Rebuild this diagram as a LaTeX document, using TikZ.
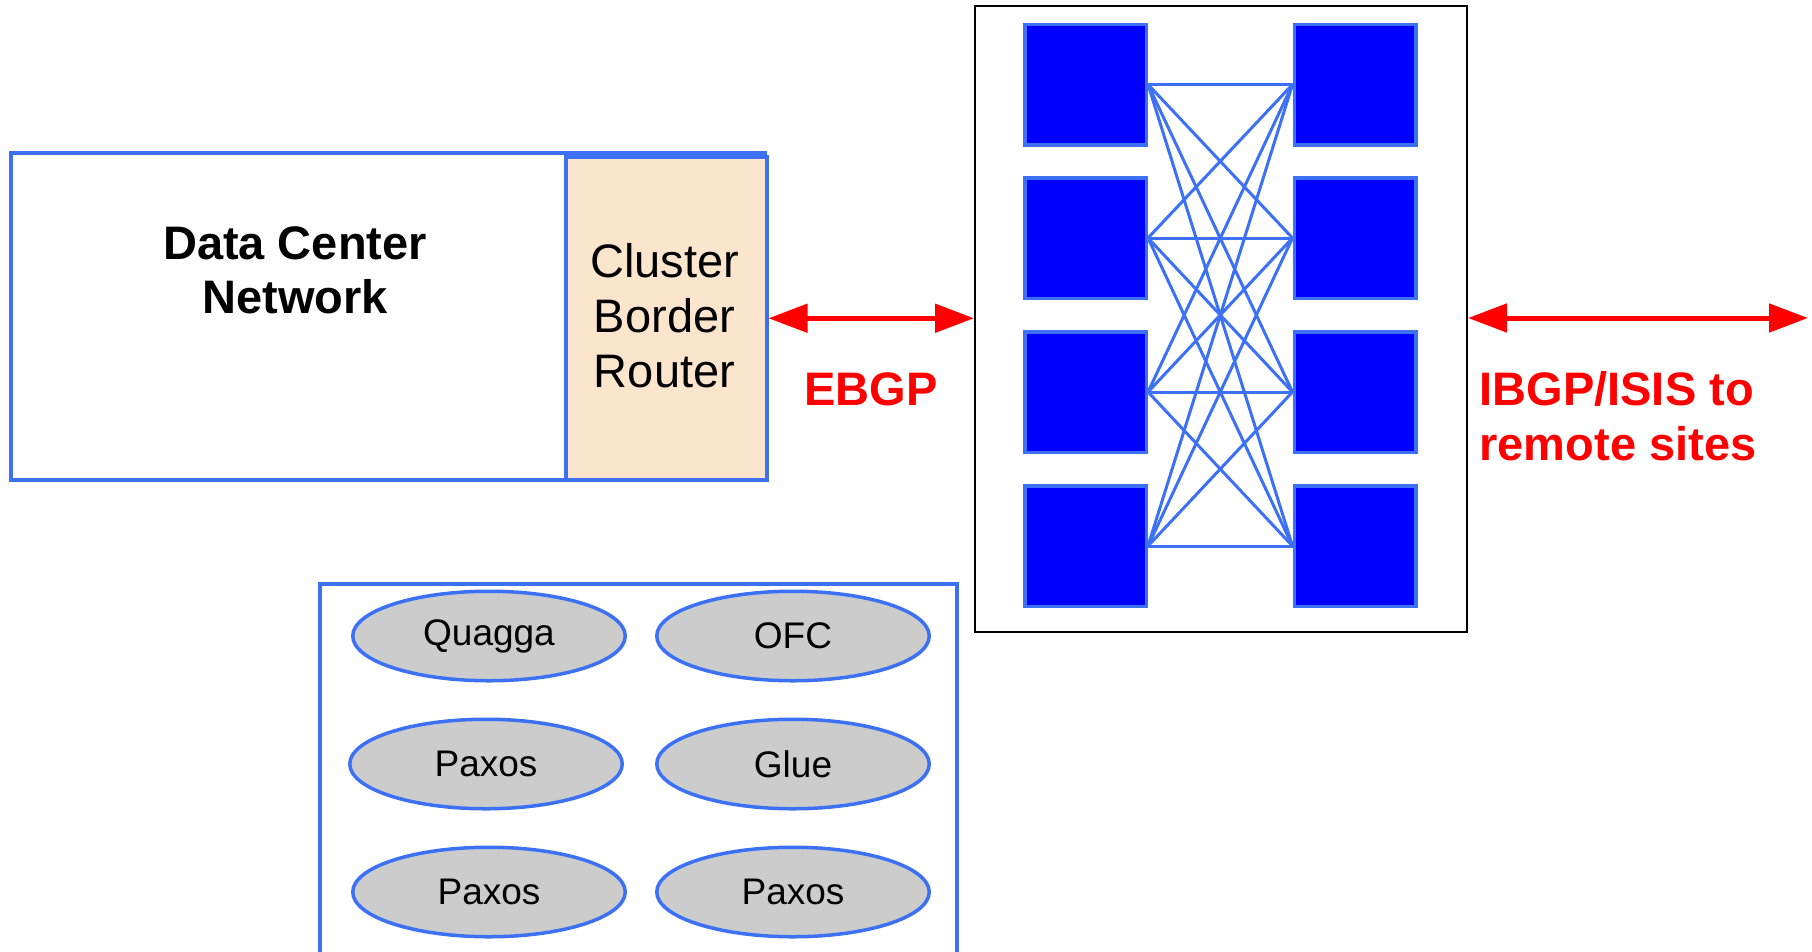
\documentclass[tikz,border=0pt]{standalone}
\usepackage{fontspec}
\setmainfont{Liberation Sans}
\usetikzlibrary{arrows.meta,shapes.geometric}
\definecolor{edgeblue}{RGB}{60,112,245}
\definecolor{switchblue}{RGB}{0,0,255}
\definecolor{peach}{RGB}{252,229,205}
\definecolor{ellgray}{RGB}{204,204,204}
\definecolor{labelred}{RGB}{255,0,0}

\begin{document}
\begin{tikzpicture}[x=1pt,y=-1pt,
  bluebox/.style={draw=edgeblue,line width=3.5pt,inner sep=0pt,anchor=north west},
  switchbox/.style={draw=edgeblue,fill=switchblue,line width=3.5pt,
    minimum width=121.5pt,minimum height=120.5pt,inner sep=0pt},
  link/.style={draw=edgeblue,line width=3pt},
  proc/.style={ellipse,draw=edgeblue,fill=ellgray,line width=3.5pt,
    minimum width=272.5pt,minimum height=89.5pt,inner sep=0pt,
    font=\fontsize{37}{44}\selectfont},
  bigtext/.style={font=\fontsize{47}{55}\selectfont,align=center},
  redlabel/.style={text=labelred,font=\fontsize{47}{55}\selectfont\bfseries},
  bothway/.style={draw=labelred,line width=5pt,
    {Triangle[length=39pt,width=28pt]}-{Triangle[length=39pt,width=28pt]}},
]
\useasboundingbox (0,0) rectangle (1812,951);

% data center network with its border router
\node[bluebox,minimum width=754pt,minimum height=327pt] (dc) at (9,151) {};
\node[bigtext,font=\fontsize{47}{54}\selectfont\bfseries] (dctext) at (295,270)
  {Data Center\\Network};
\node[bluebox,fill=peach,minimum width=201pt,minimum height=323pt] (cbr) at (564,155) {};
\node[bigtext] (cbrtext) at (664.5,316) {Cluster\\Border\\Router};

% switch fabric
\node[draw=black,line width=2pt,inner sep=0pt,anchor=north west,
  minimum width=492pt,minimum height=626pt] (fabric) at (974,5) {};
\foreach \i/\y in {1/84.5,2/238,3/392,4/546}{
  \node[switchbox] (l\i) at (1085.5,\y) {};
  \node[switchbox] (r\i) at (1355,\y) {};
}
\foreach \i in {1,...,4}{
  \foreach \j in {1,...,4}{
    \draw[link] (l\i.east) -- (r\j.west);
  }
}

% peering links
\draw[bothway] (cbr.east) -- (cbr.east -| fabric.west);
\node[redlabel] (ebgp) at (871,389) {EBGP};
\coordinate (remote) at (1808,318);
\draw[bothway] (fabric.east |- remote) -- (remote);
\node[redlabel,align=left,anchor=west] (ibgp) at (1476,416)
  {IBGP/ISIS to\\remote sites};

% control processes
\node[bluebox,minimum width=637pt,minimum height=372pt] (ctrl) at (318,582) {};
\node[proc] (quagga) at (489,636) {Quagga};
\node[proc] (ofc) at (793,636) {OFC};
\node[proc] (paxosa) at (486,764) {Paxos};
\node[proc] (glue) at (793,764) {Glue};
\node[proc] (paxosb) at (489,892) {Paxos};
\node[proc] (paxosc) at (793,892) {Paxos};
\end{tikzpicture}
\end{document}
